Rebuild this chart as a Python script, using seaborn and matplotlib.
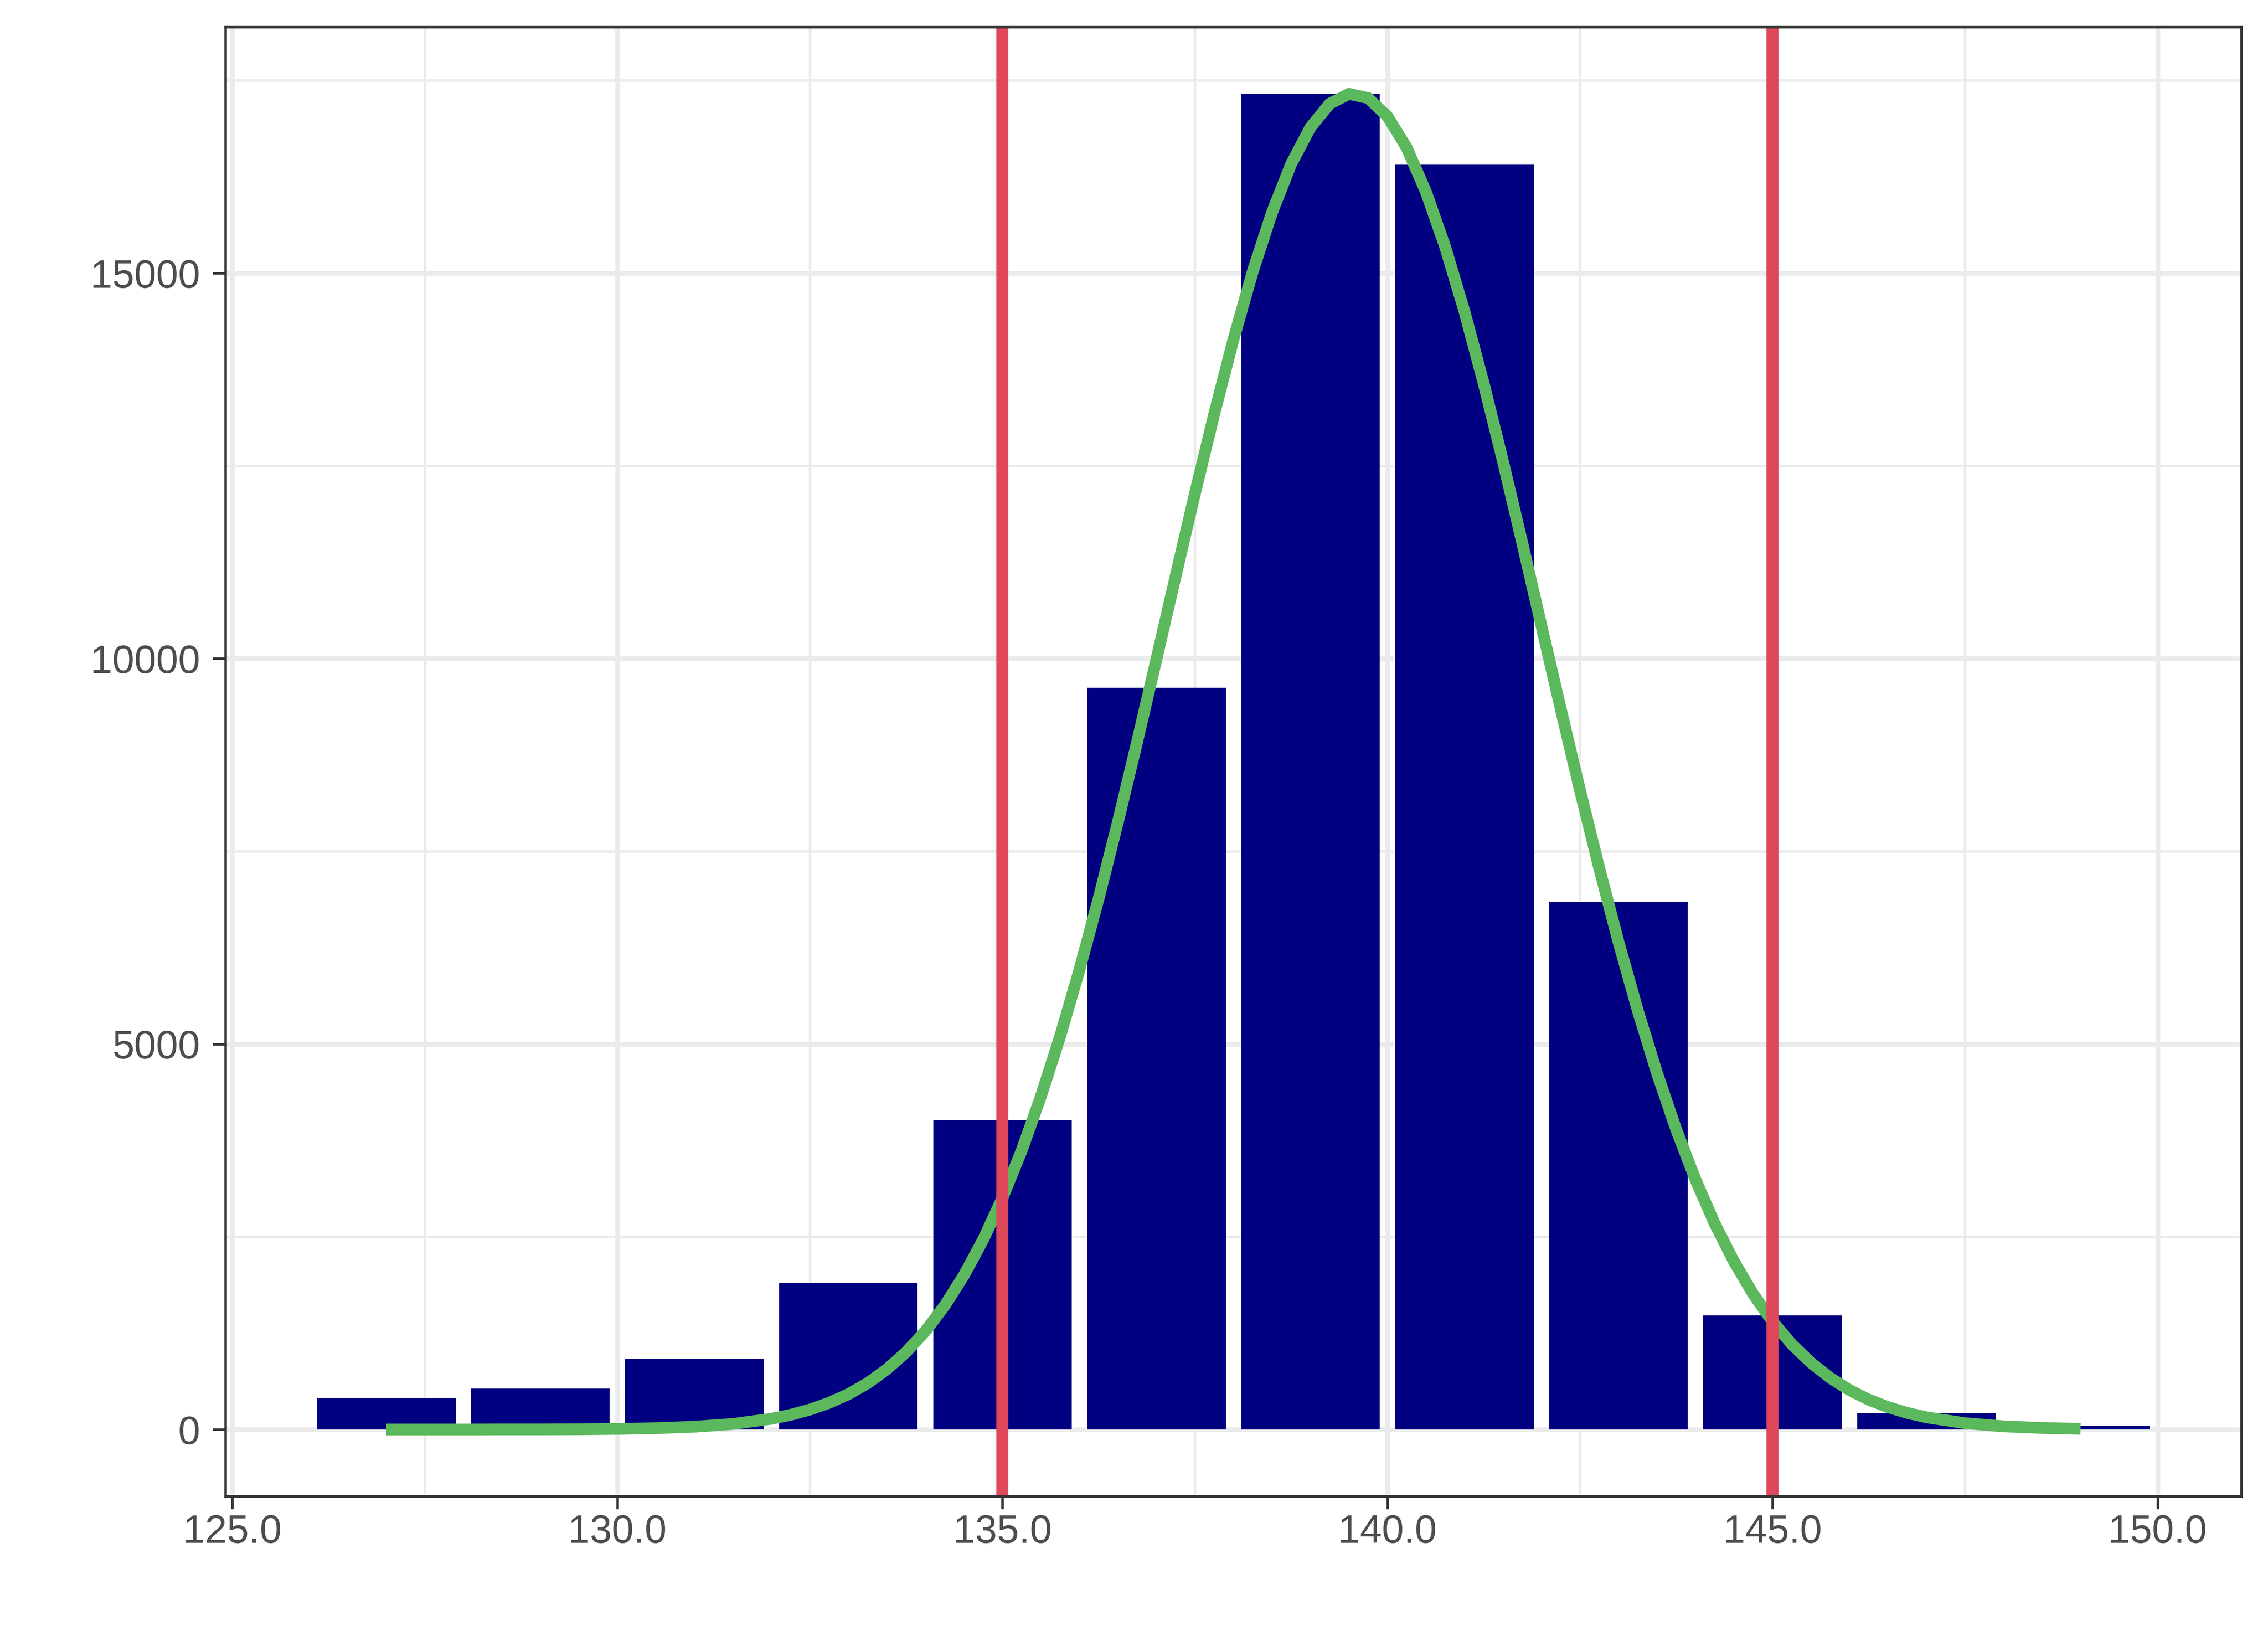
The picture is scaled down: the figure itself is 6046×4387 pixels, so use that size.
import numpy as np
import pandas as pd
import matplotlib
matplotlib.use("Agg")
import matplotlib.pyplot as plt
from matplotlib.ticker import MultipleLocator, FormatStrFormatter
import seaborn as sns

# ---- data ----
bin_centers = [127, 129, 131, 133, 135, 137, 139, 141, 143, 145, 147, 149]
bin_counts = [408, 530, 914, 1897, 4009, 9621, 17327, 16409, 6842, 1482, 214, 48]

curve_x = [127, 127.5, 128, 128.5, 129, 129.5, 130, 130.5, 131, 131.5,
           132, 132.25, 132.5, 132.75, 133, 133.25, 133.5, 133.75,
           134, 134.25, 134.5, 134.75, 135, 135.25, 135.5, 135.75,
           136, 136.25, 136.5, 136.75, 137, 137.25, 137.5, 137.75,
           138, 138.25, 138.5, 138.75, 139, 139.25, 139.5, 139.75,
           140, 140.25, 140.5, 140.75, 141, 141.25, 141.5, 141.75,
           142, 142.25, 142.5, 142.75, 143, 143.25, 143.5, 143.75,
           144, 144.25, 144.5, 144.75, 145, 145.25, 145.5, 145.75,
           146, 146.25, 146.5, 146.75, 147, 147.5, 148, 148.5, 149]
curve_y = [0, 0, 0, 1, 1, 3, 8, 17, 36, 72,
           139, 190, 258, 346, 458, 601, 782, 1004,
           1277, 1606, 2000, 2463, 3003, 3620, 4322, 5102,
           5963, 6892, 7883, 8923, 9993, 11074, 12142, 13172,
           14140, 15020, 15786, 16417, 16892, 17198, 17326, 17271,
           17035, 16627, 16055, 15340, 14503, 13568, 12559, 11503,
           10424, 9348, 8294, 7282, 6325, 5436, 4625, 3891,
           3241, 2670, 2177, 1756, 1401, 1107, 866, 669,
           512, 387, 290, 215, 158, 82, 41, 20, 9]

limit_lines = [135, 145]

# ---- styling ----
BAR_COLOR = "#000080"
CURVE_COLOR = "#5CB85C"
LIMIT_COLOR = "#DF475A"
GRID_COLOR = "#EBEBEB"
AXIS_COLOR = "#333333"
TEXT_COLOR = "#4D4D4D"

sns.set_theme(style="white")
plt.rcParams["font.family"] = ["Liberation Sans", "DejaVu Sans"]

DPI = 600
fig = plt.figure(figsize=(6046 / DPI, 4387 / DPI), dpi=DPI)
fig.patch.set_facecolor("white")
ax = fig.add_axes([0.0994, 0.09095, 0.8889, 0.89264])
ax.set_facecolor("white")

bars_df = pd.DataFrame({"x": bin_centers, "count": bin_counts})
curve_df = pd.DataFrame({"x": curve_x, "y": curve_y})

sns.barplot(data=bars_df, x="x", y="count", native_scale=True, width=0.9,
            color=BAR_COLOR, saturation=1, errorbar=None, ax=ax,
            linewidth=0, zorder=2)
sns.lineplot(data=curve_df, x="x", y="y", color=CURVE_COLOR, linewidth=3.75,
             ax=ax, zorder=3, solid_capstyle="butt")
for v in limit_lines:
    ax.axvline(v, color=LIMIT_COLOR, linewidth=3.85, zorder=4)

# limits with 5% expansion like the reference
bw = 0.9 * (bin_centers[1] - bin_centers[0])
xlo = min(bin_centers) - bw / 2
xhi = max(bin_centers) + bw / 2
xr = xhi - xlo
ax.set_xlim(xlo - 0.05 * xr, xhi + 0.05 * xr)
ytop = max(max(bin_counts), max(curve_y))
ax.set_ylim(-0.05 * ytop, 1.05 * ytop)

ax.xaxis.set_major_locator(MultipleLocator(5))
ax.xaxis.set_minor_locator(MultipleLocator(2.5))
ax.xaxis.set_major_formatter(FormatStrFormatter("%.1f"))
ax.yaxis.set_major_locator(MultipleLocator(5000))
ax.yaxis.set_minor_locator(MultipleLocator(2500))
ax.yaxis.set_major_formatter(FormatStrFormatter("%d"))

ax.grid(which="major", color=GRID_COLOR, linewidth=1.5, zorder=0)
ax.grid(which="minor", color=GRID_COLOR, linewidth=0.8, zorder=0)
ax.set_axisbelow(True)

for s in ax.spines.values():
    s.set_visible(True)
    s.set_color(AXIS_COLOR)
    s.set_linewidth(0.8)
    s.set_zorder(5)

ax.tick_params(which="major", length=4.1, width=0.8, color=AXIS_COLOR,
               labelcolor=TEXT_COLOR, labelsize=12.6)
ax.tick_params(axis="x", which="major", pad=1.5, bottom=True)
ax.tick_params(axis="y", which="major", pad=4, left=True)
ax.tick_params(which="minor", length=0)

ax.set_xlabel("")
ax.set_ylabel("")

fig.savefig("out.png", dpi=DPI, facecolor="white")
